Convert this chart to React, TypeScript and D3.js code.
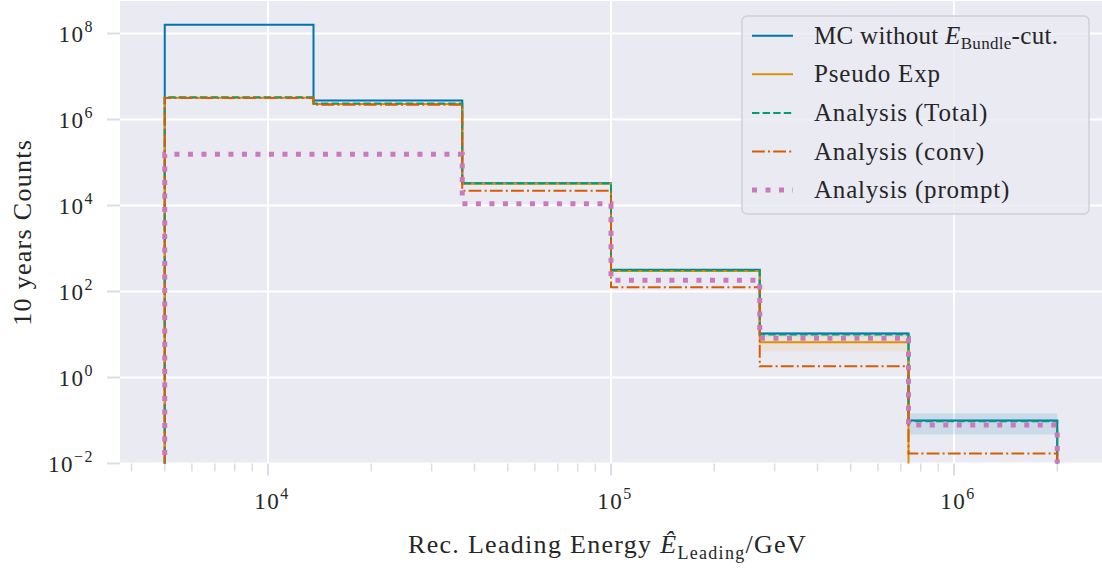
import React from "react";
import * as d3 from "d3";

// ---------- data ----------
const binEdges = [5000, 13572, 36840, 100000, 271442, 736806, 2000000];
const mcNoCut = [1.6e8, 2.75e6, 3.3e4, 320, 10.5, 0.1];
const pseudoExp = [3.2e6, 2.3e6, 3.2e4, 300, 6.6, 0];
const analysisTotal = [3.3e6, 2.36e6, 3.3e4, 310, 10.0, 0.096];
const analysisConv = [3.15e6, 2.2e6, 2.2e4, 126, 1.83, 0.017];
const analysisPrompt = [1.56e5, 1.56e5, 1.1e4, 183, 8.2, 0.079];
const mcBandLow = [1.59e8, 2.73e6, 3.25e4, 300, 9.0, 0.047];
const mcBandHigh = [1.61e8, 2.77e6, 3.35e4, 335, 11.5, 0.148];
const pseudoBandLow = [3.19e6, 2.29e6, 3.15e4, 283, 4.0, 0];
const pseudoBandHigh = [3.21e6, 2.31e6, 3.25e4, 317, 9.3, 0];
const xMajorTicks = [1e4, 1e5, 1e6];
const yMajorTicks = [1e-2, 1e0, 1e2, 1e4, 1e6, 1e8];

const W = 1102;
const H = 568;
const left = 120, right = 1102, top = 1, bottom = 463.5;

const x = d3.scaleLog().domain([Math.pow(10, 3.5685), Math.pow(10, 6.4315)]).range([left, right]);
const y = d3.scaleLog().domain([1e-2, Math.pow(10, 8.756)]).range([bottom, top]);

const FLOOR = 1e-4;
const yy = (v: number) => y(Math.max(v, FLOOR));

function stepPath(vals: number[]) {
  let d = `M${x(binEdges[0])},${yy(FLOOR)}`;
  vals.forEach((v, i) => {
    d += `L${x(binEdges[i])},${yy(v)}L${x(binEdges[i + 1])},${yy(v)}`;
  });
  d += `L${x(binEdges[binEdges.length - 1])},${yy(FLOOR)}`;
  return d;
}

function bandPath(lo: number[], hi: number[]) {
  let d = "";
  lo.forEach((l, i) => {
    if (hi[i] <= 0) return;
    const x0 = x(binEdges[i]), x1 = x(binEdges[i + 1]);
    d += `M${x0},${yy(l)}L${x1},${yy(l)}L${x1},${yy(hi[i])}L${x0},${yy(hi[i])}Z`;
  });
  return d;
}

const C = {
  blue: "#0173B2",
  orange: "#DE8F05",
  green: "#029E73",
  red: "#D55E00",
  pink: "#CC78BC",
};

const series = [
  { name: "mc", vals: mcNoCut, color: C.blue, width: 2, dash: "" },
  { name: "pseudo", vals: pseudoExp, color: C.orange, width: 2, dash: "" },
  { name: "total", vals: analysisTotal, color: C.green, width: 2, dash: "7.4 3.2" },
  { name: "conv", vals: analysisConv, color: C.red, width: 2, dash: "12.8 3.2 2 3.2" },
  { name: "prompt", vals: analysisPrompt, color: C.pink, width: 5, dash: "5 8.5" },
];

const FONT = "'Liberation Serif', 'DejaVu Serif', serif";
const TEXT = "#262626";

const minorX: number[] = [];
for (let e = 3; e <= 6; e++) {
  for (let m = 2; m <= 9; m++) {
    const v = m * Math.pow(10, e);
    if (v > x.domain()[0] && v < x.domain()[1]) minorX.push(v);
  }
}

function Sup({ base, exp, ...rest }: any) {
  return (
    <text {...rest} style={{ letterSpacing: "1.5px" }}>
      {base}
      <tspan fontSize={16} dy={-10} dx={0}>{exp}</tspan>
    </text>
  );
}

const legendItems = [
  { key: "mc", label: "mc" },
  { key: "pseudo", label: "Pseudo Exp" },
  { key: "total", label: "Analysis (Total)" },
  { key: "conv", label: "Analysis (conv)" },
  { key: "prompt", label: "Analysis (prompt)" },
];

export default function App() {
  return (
    <svg width={W} height={H} style={{ position: "absolute", left: 0, top: 0, background: "#fff" }} fontFamily={FONT}>
      <defs>
        <clipPath id="plotclip">
          <rect x={left} y={top} width={right - left} height={bottom - top} />
        </clipPath>
      </defs>
      <rect x={left} y={top} width={right - left} height={bottom - top} fill="#EAEAF2" />
      {/* grid */}
      {xMajorTicks.map((t) => (
        <line key={"gx" + t} x1={x(t)} x2={x(t)} y1={top} y2={bottom} stroke="#fff" strokeWidth={2} />
      ))}
      {yMajorTicks.map((t) => (
        <line key={"gy" + t} x1={left} x2={right} y1={y(t)} y2={y(t)} stroke="#fff" strokeWidth={2} />
      ))}
      {/* ticks */}
      {yMajorTicks.map((t) => (
        <line key={"ty" + t} x1={left - 13} x2={left} y1={y(t)} y2={y(t)} stroke="#DCDCE8" strokeWidth={2} />
      ))}
      {xMajorTicks.map((t) => (
        <line key={"tx" + t} x1={x(t)} x2={x(t)} y1={bottom} y2={bottom + 12} stroke="#DCDCE8" strokeWidth={2} />
      ))}
      {minorX.map((t) => (
        <line key={"mx" + t} x1={x(t)} x2={x(t)} y1={bottom} y2={bottom + 8} stroke="#DCDCE8" strokeWidth={1.5} />
      ))}
      <g clipPath="url(#plotclip)">
        <path d={bandPath(mcBandLow, mcBandHigh)} fill={C.blue} fillOpacity={0.13} />
        <path d={bandPath(pseudoBandLow, pseudoBandHigh)} fill={C.orange} fillOpacity={0.1} />
        {series.map((s) => (
          <path
            key={s.name}
            d={stepPath(s.vals)}
            fill="none"
            stroke={s.color}
            strokeWidth={s.width}
            strokeDasharray={s.dash || undefined}
            strokeLinejoin="miter"
          />
        ))}
      </g>
      {/* tick labels */}
      {yMajorTicks.map((t) => (
        <Sup
          key={"ly" + t}
          base="10"
          exp={t < 1 ? "\u22122" : String(Math.round(Math.log10(t)))}
          x={94}
          y={y(t) + 8}
          textAnchor="end"
          fontSize={23}
          fill={TEXT}
        />
      ))}
      {xMajorTicks.map((t) => (
        <Sup
          key={"lx" + t}
          base="10"
          exp={String(Math.round(Math.log10(t)))}
          x={x(t) + 4}
          y={509}
          textAnchor="middle"
          fontSize={23}
          fill={TEXT}
        />
      ))}
      {/* axis labels */}
      <text x={408} y={553} fontSize={26} fill={TEXT} style={{ letterSpacing: "1.3px" }}>
        Rec. Leading Energy <tspan fontStyle="italic">Ê</tspan>
        <tspan fontSize={18} dy={6}>Leading</tspan>
        <tspan dy={-6}>/GeV</tspan>
      </text>
      <text
        transform={`translate(31,${(top + bottom) / 2}) rotate(-90)`}
        textAnchor="middle"
        fontSize={26}
        fill={TEXT}
        style={{ letterSpacing: "1.3px" }}
      >
        10 years Counts
      </text>
      {/* legend */}
      <rect x={742} y={16} width={347} height={198} rx={5} fill="#EAEAF2" fillOpacity={0.8} stroke="#D0D0D8" strokeWidth={1.5} />
      {legendItems.map((it, i) => {
        const s = series.find((q) => q.name === it.key)!;
        const cy = 35.7 + i * 38.6;
        return (
          <g key={it.key}>
            <line x1={752} x2={793} y1={cy} y2={cy} stroke={s.color} strokeWidth={s.width} strokeDasharray={s.dash || undefined} />
            {it.key === "mc" ? (
              <text x={814} y={cy + 8} fontSize={25} fill={TEXT} style={{ letterSpacing: "0.3px" }}>
                MC without <tspan fontStyle="italic">E</tspan>
                <tspan fontSize={17} dy={5}>Bundle</tspan>
                <tspan dy={-5}>-cut.</tspan>
              </text>
            ) : (
              <text x={814} y={cy + 8} fontSize={25} fill={TEXT} style={{ letterSpacing: "0.8px" }}>
                {it.label}
              </text>
            )}
          </g>
        );
      })}
    </svg>
  );
}
